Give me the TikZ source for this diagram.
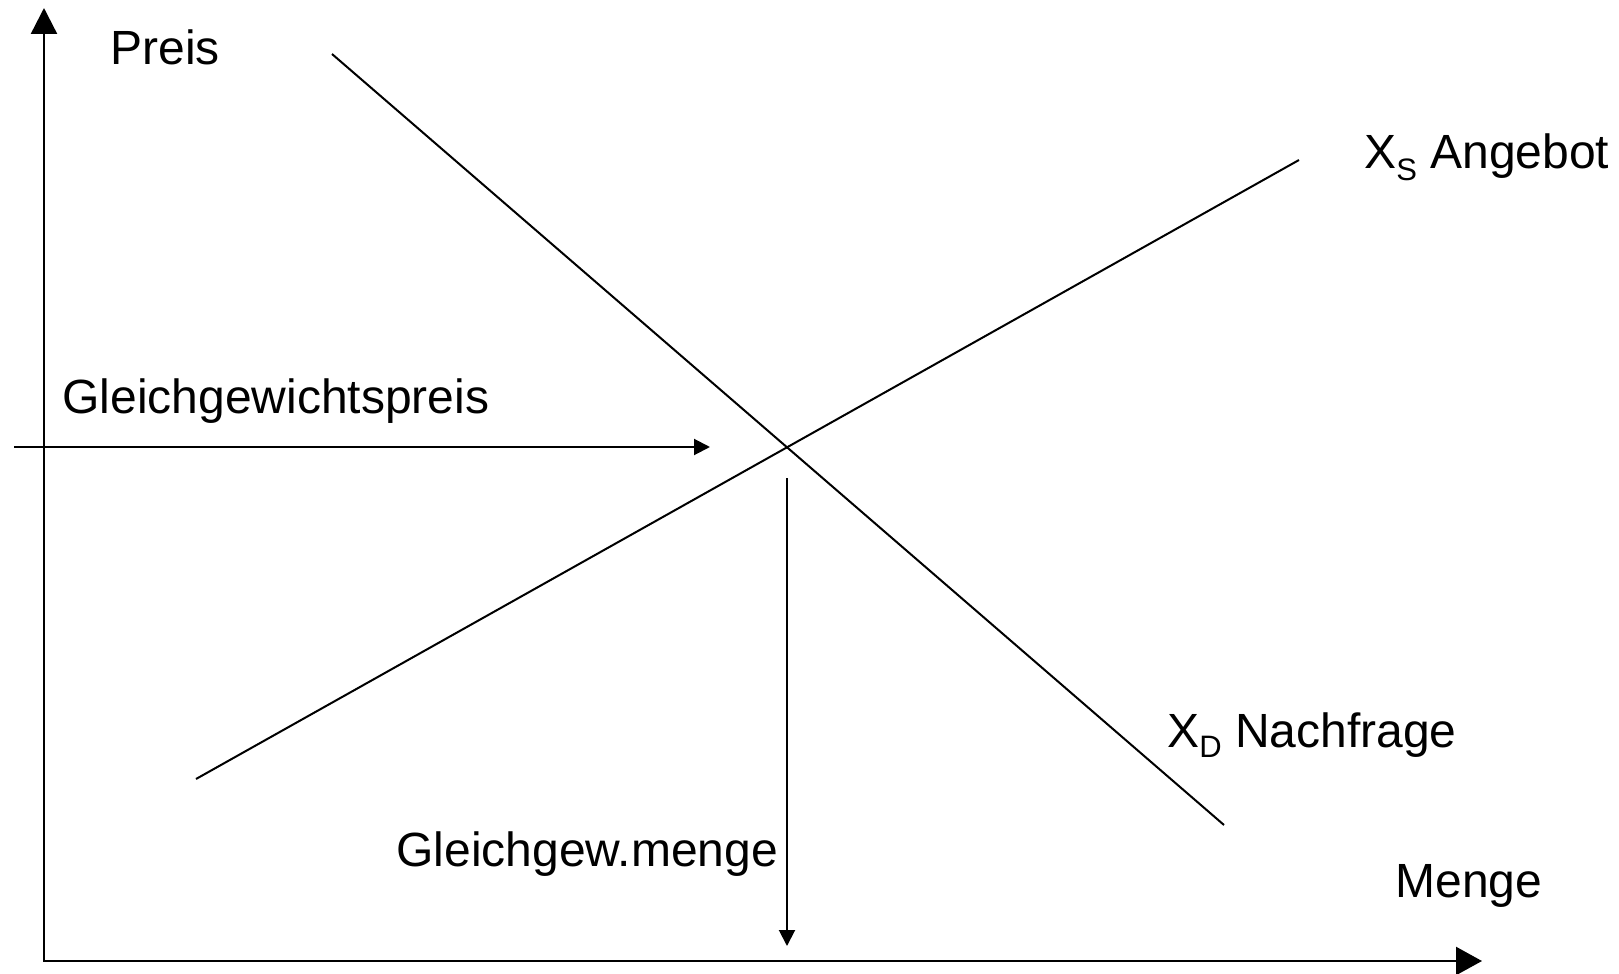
\documentclass[tikz,border=0pt]{standalone}
\usepackage{fontspec}
\setmainfont{Liberation Sans}
\usetikzlibrary{arrows.meta}
\newcommand{\subtxt}[2]{\raisebox{-#1}{\fontsize{15.5}{18}\selectfont #2}}
\begin{document}
\begin{tikzpicture}[x=0.5pt,y=-0.5pt,
  lbl/.style={anchor=base west, inner sep=0pt, font=\fontsize{24}{28}\selectfont},
  axis/.style={line width=1.2pt, {Triangle[length=13pt,width=13pt]}-{Triangle[length=13pt,width=14pt]}},
  curve/.style={line width=1pt},
  guide/.style={line width=1pt, -{Triangle[length=8pt,width=8pt]}}]
\useasboundingbox (0,0) rectangle (1619,974);

% axes
\coordinate (ytop) at (44,8);
\coordinate (O) at (44,961);
\coordinate (xend) at (1482,961);
\draw[axis] (ytop) -- (O) -- (xend);

% demand and supply
\coordinate (d1) at (332,54);
\coordinate (d2) at (1224,825);
\coordinate (s1) at (196,779);
\coordinate (s2) at (1299,160);
\draw[curve] (d1) -- (d2);
\draw[curve] (s1) -- (s2);

% equilibrium guides
\coordinate (p0) at (14,447);
\coordinate (p1) at (710,447);
\coordinate (q0) at (787,478);
\coordinate (q1) at (787,946);
\draw[guide] (p0) -- (p1);
\draw[guide] (q0) -- (q1);

% labels
\node[lbl] (preis) at (110,65) {Preis};
\node[lbl] (gpreis) at (62,413) {Gleichgewichtspreis};
\node[lbl] (angebot) at (1364,169) {X\subtxt{6pt}{S} Angebot};
\node[lbl] (nachfrage) at (1167,747) {X\subtxt{5pt}{D} Nachfrage};
\node[lbl] (menge) at (1395,897) {Menge};
\node[lbl] (gmenge) at (396,866) {Gleichgew.menge};
\end{tikzpicture}
\end{document}
